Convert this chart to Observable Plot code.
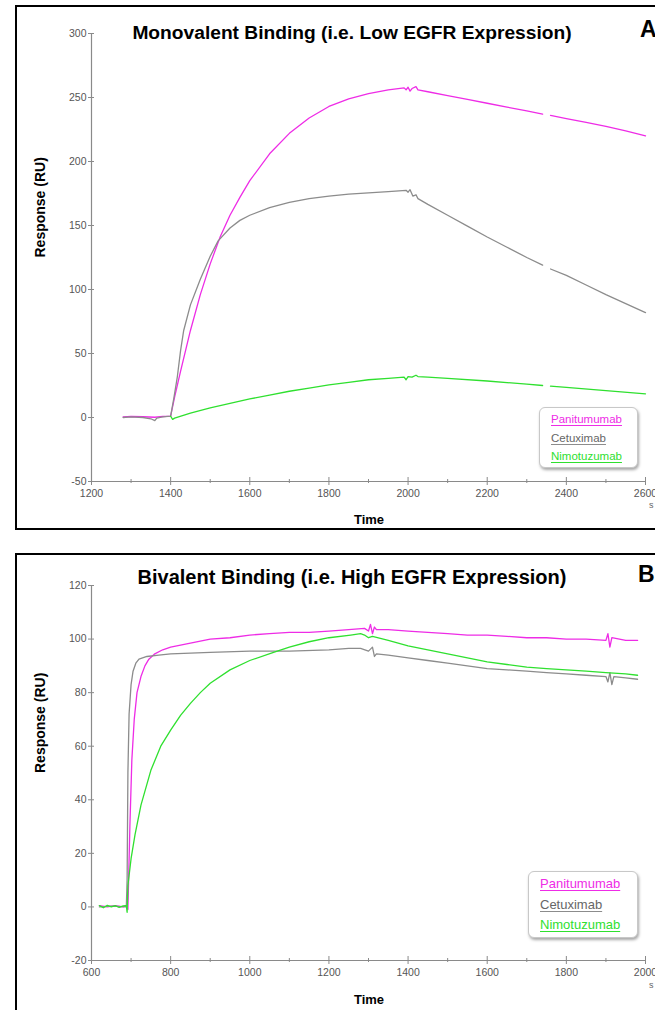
<!DOCTYPE html>
<html>
<head>
<meta charset="utf-8">
<script src="https://cdn.jsdelivr.net/npm/d3@7"></script>
<script src="https://cdn.jsdelivr.net/npm/@observablehq/plot@0.6"></script>
<style>
  html, body { margin: 0; padding: 0; background: #fff; }
  #root { position: relative; width: 655px; height: 1010px; overflow: hidden; font-family: Arial, "Liberation Sans", sans-serif; }
  .box { position: absolute; border: 2px solid #000; box-sizing: border-box; }
  .abs { position: absolute; white-space: nowrap; }
  .title { font-weight: bold; text-align: center; color: #000; }
  .letter { font-weight: bold; font-size: 23px; color: #000; }
  .xlab { font-weight: bold; font-size: 13px; color: #000; text-align: center; }
  .unit { font-size: 9px; color: #666; }
  .legend { position: absolute; background: #fff; border: 1px solid #c8c8c8; border-radius: 6px; box-shadow: 1px 2px 3px rgba(0,0,0,0.35); box-sizing: border-box; }
  .legend div { text-decoration: underline; text-underline-offset: 2px; }
  svg { position: absolute; left: 0; }
</style>
</head>
<body>
<div id="root"></div>
<script>
// ---------- DATA ----------
const seriesNames = ["Panitumumab", "Cetuximab", "Nimotuzumab"];
const seriesColors = ["#ee2ce6", "#8c8c8c", "#2fe02f"];

const titles = ["Monovalent Binding (i.e. Low EGFR Expression)", "Bivalent Binding (i.e. High EGFR Expression)"];
const panelLetters = ["A", "B"];
const yLabel = "Response (RU)";
const xLabel = "Time";
const xUnit = "s";

// Panel A (monovalent)
const monoXTicks = [1200, 1400, 1600, 1800, 2000, 2200, 2400, 2600];
const monoXMinor = [1300, 1500, 1700, 1900, 2100, 2300, 2500];
const monoYTicks = [-50, 0, 50, 100, 150, 200, 250, 300];

const monoPaniT = [1280,1300,1330,1360,1380,1400,1410,1425,1450,1475,1500,1525,1550,1575,1600,1650,1700,1750,1800,1850,1900,1950,1990,1995,2000,2005,2010,2020,2025,2050,2100,2150,2200,2250,2300,2340,2350,2360,2400,2450,2500,2550,2600];
const monoPaniV = [0.5,0.8,0.6,0.2,0.8,1,16,36,68,96,120,141,158,172,185,206,222,234,243,249,253,256,257.5,256,258,255,257,258.5,256,254.5,251.5,248.5,245.5,242.5,239.5,237,null,236,233.5,230.5,227.5,224,220];

const monoCetuT = [1280,1300,1330,1350,1360,1365,1380,1400,1408,1417,1425,1433,1450,1475,1500,1520,1550,1575,1600,1650,1700,1750,1800,1850,1900,1950,1995,2000,2005,2012,2020,2025,2050,2100,2150,2200,2250,2300,2340,2350,2360,2400,2450,2500,2550,2600];
const monoCetuV = [0,0.5,0,-1,-2.5,-0.5,0.5,1,15,32,52,68,88,108,126,138,148,154,158,164,168,171,173,174.5,175.5,176.5,177.5,176,178,173,174,171,166.5,158,149.5,141,133,125,119,null,116,111,103.5,96,89,82];

const monoNimoT = [1400,1405,1410,1450,1500,1550,1600,1650,1700,1750,1800,1850,1900,1950,1990,1995,2000,2010,2020,2025,2050,2100,2200,2300,2340,2350,2360,2400,2500,2600];
const monoNimoV = [1,-1.5,-0.5,3.5,7.5,11,14.5,17.5,20.5,23,25.5,27.5,29.5,30.5,31.5,29.5,32,31.5,33,32,31.5,30.5,28.5,26,25,null,24.5,23.5,21,18.5];

// Panel B (bivalent)
const biXTicks = [600, 800, 1000, 1200, 1400, 1600, 1800, 2000];
const biXMinor = [700, 900, 1100, 1300, 1500, 1700, 1900];
const biYTicks = [-20, 0, 20, 40, 60, 80, 100, 120];

const biPaniT = [620,640,660,680,688,692,697,702,708,715,725,735,745,760,780,800,850,900,950,1000,1050,1100,1150,1200,1250,1290,1300,1305,1310,1315,1320,1350,1400,1450,1500,1550,1600,1650,1700,1750,1800,1850,1900,1905,1910,1915,1950,1980];
const biPaniV = [0.5,0,0.5,0,0.5,-1,30,55,70,80,86,90,92.5,94.5,96,97,98.5,100,100.5,101.5,102,102.5,102.5,103,103.5,104,103,105.5,102,104.5,103.5,103.5,103,102.5,102,101.5,101.5,101,100.5,100.5,100,100,99.5,102,97,100.5,99.5,99.5];

const biCetuT = [620,650,688,690,692,695,700,705,712,720,740,770,800,900,1000,1100,1200,1250,1280,1300,1310,1315,1320,1350,1400,1450,1500,1550,1600,1650,1700,1750,1800,1850,1900,1905,1910,1915,1920,1950,1980];
const biCetuV = [0,0.3,0,10,50,72,83,88,91,92.5,93.5,94,94.5,95,95.5,95.5,96,96.5,96.5,95.5,97,93.5,94.5,94,93,92,91,90,89,88.5,88,87.5,87,86.5,86,84,87.5,83,86,85.5,85];

const biNimoT = [620,630,640,650,660,670,680,688,690,692,700,710,725,750,775,800,825,850,875,900,950,1000,1060,1100,1150,1200,1255,1280,1290,1300,1310,1350,1400,1450,1500,1550,1600,1650,1700,1750,1800,1850,1900,1950,1980];
const biNimoV = [0.5,-0.3,0.6,0,0.5,-0.2,0.4,0.5,-2,8,18,27,38,51,60,66,71.5,76,80,83.5,88.5,92,95,97,99,100.5,101.5,102,101.5,100.5,101,99.5,97.5,96,94.5,93,91.5,90.5,89.5,89,88.5,88,87.5,87,86.5];

// ---------- BUILD ----------
function rows(T, V, name) { return T.map((t, i) => ({t, v: V[i], name})); }
const monoData = [rows(monoPaniT, monoPaniV, seriesNames[0]), rows(monoCetuT, monoCetuV, seriesNames[1]), rows(monoNimoT, monoNimoV, seriesNames[2])];
const biData = [rows(biPaniT, biPaniV, seriesNames[0]), rows(biCetuT, biCetuV, seriesNames[1]), rows(biNimoT, biNimoV, seriesNames[2])];

const axisColor = "#8a8a8a";
const labelColor = "#555";
const FONT = 'Arial, "Liberation Sans", sans-serif';

function makePanel({data, order, xTicks, xMinor, yTicks, height, marginTop, marginBottom}) {
  const xd = [xTicks[0], xTicks[xTicks.length - 1]];
  const yd = [yTicks[0], yTicks[yTicks.length - 1]];
  const lines = order.map(i => Plot.line(data[i], {x: "t", y: "v", stroke: seriesColors[i], strokeWidth: 1.3}));
  return Plot.plot({
    width: 655, height, marginTop, marginBottom, marginLeft: 91, marginRight: 10,
    style: {fontFamily: FONT, fontSize: "10.5px", background: "transparent", overflow: "visible"},
    x: {domain: xd, label: null}, y: {domain: yd, label: null},
    marks: [
      Plot.ruleX([xd[0]], {stroke: axisColor, strokeWidth: 1.2}),
      Plot.ruleY([yd[0]], {stroke: axisColor, strokeWidth: 1.2}),
      Plot.axisX({ticks: xTicks, tickSize: 8, dy: -4, text: null, label: null, stroke: axisColor}),
      Plot.axisX({ticks: xMinor, tickSize: 4, dy: -2, text: null, label: null, stroke: axisColor}),
      Plot.axisX({ticks: xTicks, tickSize: 0, tickPadding: 8, tickFormat: d => String(d), fill: labelColor, label: null}),
      Plot.axisY({ticks: yTicks, tickSize: 6, dx: 3, text: null, label: null, stroke: axisColor}),
      Plot.axisY({ticks: yTicks, tickSize: 0, tickPadding: 5, tickFormat: d => String(d), fill: labelColor, label: null}),
      Plot.text([yLabel], {frameAnchor: "left", dx: -51, rotate: -90, fontWeight: "bold", fontSize: 14, fill: "#000"}),
      ...lines
    ]
  });
}

const root = document.getElementById("root");
function addDiv(cls, style, text) {
  const d = document.createElement("div");
  d.className = cls; Object.assign(d.style, style);
  if (text != null) d.textContent = text;
  root.appendChild(d); return d;
}

// panel boxes
addDiv("box", {left: "15px", top: "5px", width: "720px", height: "525px"});
addDiv("box", {left: "15px", top: "553px", width: "720px", height: "520px"});

const svgA = makePanel({data: monoData, order: [0, 1, 2], xTicks: monoXTicks, xMinor: monoXMinor, yTicks: monoYTicks, height: 530, marginTop: 33, marginBottom: 49});
svgA.style.top = "0px";
root.appendChild(svgA);

const svgB = makePanel({data: biData, order: [0, 1, 2], xTicks: biXTicks, xMinor: biXMinor, yTicks: biYTicks, height: 457, marginTop: 32, marginBottom: 50});
svgB.style.top = "553px";
root.appendChild(svgB);

// titles and labels
addDiv("abs title", {left: "0px", width: "704px", top: "22px", lineHeight: "22px", fontSize: "19.2px"}, titles[0]);
addDiv("abs title", {left: "0px", width: "704px", top: "566px", lineHeight: "22px", fontSize: "20px"}, titles[1]);
addDiv("abs letter", {left: "640px", top: "16px", lineHeight: "26px"}, panelLetters[0]);
addDiv("abs letter", {left: "638px", top: "561px", lineHeight: "26px"}, panelLetters[1]);
addDiv("abs xlab", {left: "319px", width: "100px", top: "512px", lineHeight: "16px"}, xLabel);
addDiv("abs xlab", {left: "319px", width: "100px", top: "992px", lineHeight: "16px"}, xLabel);
addDiv("abs unit", {left: "649px", top: "500px", lineHeight: "10px"}, xUnit);
addDiv("abs unit", {left: "649px", top: "980px", lineHeight: "10px"}, xUnit);

// legends
function legend(left, top, w, h, fs, lh) {
  const L = addDiv("legend", {left: left + "px", top: top + "px", width: w + "px", height: h + "px", padding: "2px 0 0 11px", fontSize: fs + "px", lineHeight: lh + "px"});
  seriesNames.forEach((n, i) => {
    const d = document.createElement("div");
    d.textContent = n;
    d.style.color = i === 1 ? "#666" : seriesColors[i];
    d.style.textDecorationColor = seriesColors[i];
    L.appendChild(d);
  });
}
legend(539, 407, 99, 61, 11.5, 18.5);
legend(528, 871, 110, 67, 13, 20.5);
</script>
</body>
</html>
